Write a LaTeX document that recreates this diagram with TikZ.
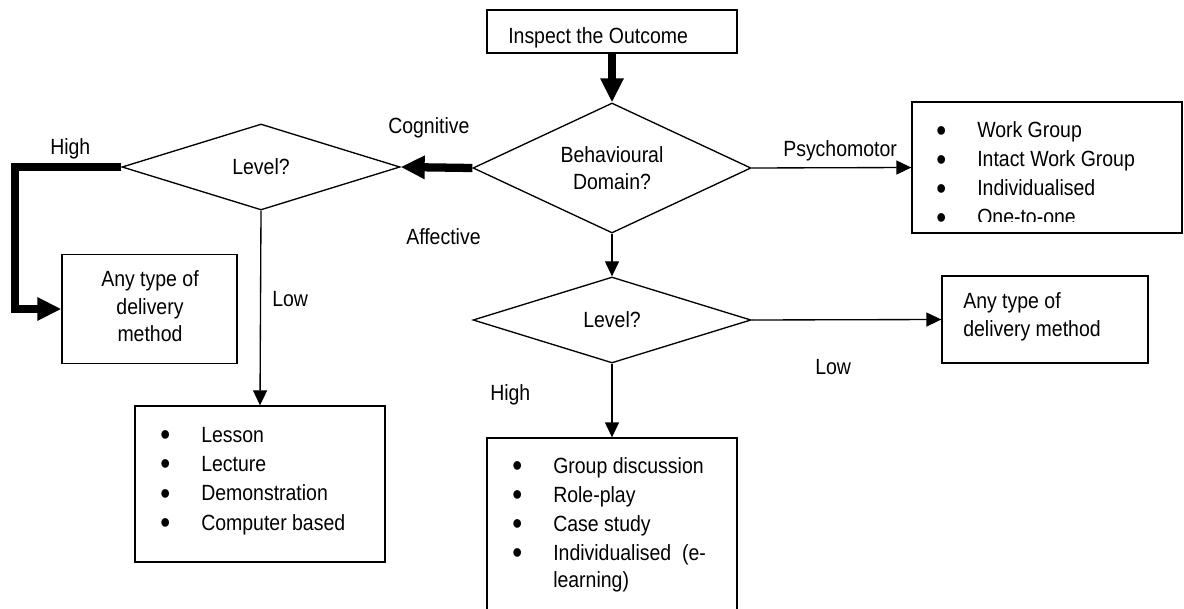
\documentclass[tikz,border=0pt]{standalone}
\usepackage{fontspec}
\setmainfont[FakeStretch=0.885]{Liberation Sans}
\usetikzlibrary{arrows.meta,shapes.geometric}

\newcommand{\itembullet}{\makebox[30.75pt][l]{\raisebox{-2.6pt}{\scalebox{1.45}{•}}}}

\tikzset{
  frame/.style={draw, line width=1pt, rectangle, inner sep=0pt},
  decide/.style={draw, line width=1pt, diamond, inner sep=0pt, align=center},
  lbl/.style={anchor=base west, inner sep=0pt},
  lst/.style={anchor=base west, inner sep=0pt},
  flow/.style={line width=1pt, -{Triangle[length=11.25pt,width=10.5pt]}},
  bold flow/.style={line width=6.2pt, line join=miter, -{Triangle[length=18pt,width=16.5pt]}},
}

\begin{document}
\begin{tikzpicture}[x=0.75pt, y=-0.75pt, font=\fontsize{16.5pt}{20.25pt}\selectfont]
\useasboundingbox (0,0) rectangle (1184,609);
\fill[white] (0,0) rectangle (1184,609);
\clip (0,0) rectangle (1184,609);

% boxes
\node[frame, minimum width=187.5pt, minimum height=32.25pt] (top) at (612,31.5) {};
\node[frame, minimum width=202.5pt, minimum height=98.25pt] (psych) at (1047,167.5) {};
\node[frame, minimum width=131.25pt, minimum height=81.75pt] (anyL) at (149.5,309) {};
\node[frame, minimum width=187.5pt, minimum height=117pt] (lesson) at (260,484) {};
\node[frame, minimum width=154.5pt, minimum height=65.25pt] (anyR) at (1045,319.5) {};
\node[frame, minimum width=187.5pt, minimum height=196.5pt] (group) at (612,569) {};

% decisions
\node[decide, aspect=2.2, minimum width=208.5pt, minimum height=97.5pt] (dom) at (612,168) {Behavioural\\Domain?};
\node[decide, aspect=3.2, minimum width=208.5pt, minimum height=64.5pt] (lvlC) at (261,167) {Level?};
\node[decide, aspect=3.2, minimum width=208.5pt, minimum height=64.5pt] (lvlA) at (612,320) {Level?};

% texts of the boxes
\node[lbl] (toptext) at (508,44) {Inspect the Outcome};

\begin{scope}
  \clip (912,102) rectangle (1182,222);
  \node[lst, font=\fontsize{16.5pt}{21.75pt}\selectfont] (psychlist) at (936,138) {\begin{tabular}[t]{@{}l@{}}
    \itembullet Work Group\\
    \itembullet Intact Work Group\\
    \itembullet Individualised\\
    \itembullet One-to-one
  \end{tabular}};
\end{scope}

\node[anchor=base, inner sep=0pt, font=\fontsize{16.5pt}{20.6pt}\selectfont] (anyLtext) at (150,287) {\begin{tabular}[t]{@{}c@{}}
  Any type of\\ delivery\\ method
\end{tabular}};

\node[lst, font=\fontsize{16.5pt}{21pt}\selectfont] (anyRtext) at (963,309) {\begin{tabular}[t]{@{}l@{}}
  Any type of\\ delivery method
\end{tabular}};

\node[lst, font=\fontsize{16.5pt}{22pt}\selectfont] (lessonlist) at (160,442) {\begin{tabular}[t]{@{}l@{}}
  \itembullet Lesson\\
  \itembullet Lecture\\
  \itembullet Demonstration\\
  \itembullet Computer based
\end{tabular}};

\node[lst] (grouplist) at (512,473) {\begin{tabular}[t]{@{}l@{}}
  \itembullet Group discussion\\[1.5pt]
  \itembullet Role-play\\[1.5pt]
  \itembullet Case study\\[1.5pt]
  \itembullet Individualised\ \ (e-\\
  \hspace*{30.75pt}learning)
\end{tabular}};

% branch labels
\node[lbl] (lcog) at (388,134) {Cognitive};
\node[lbl] (lhighC) at (50,155) {High};
\node[lbl] (lpsy) at (783,157) {Psychomotor};
\node[lbl] (laff) at (406,245) {Affective};
\node[lbl] (llowC) at (272,307) {Low};
\node[lbl] (llowA) at (815,374) {Low};
\node[lbl] (lhighA) at (490,400) {High};

% connectors
\coordinate (hcorner) at (15,309);
\draw[bold flow] (top.south) -- (dom.north);
\draw[bold flow] (dom.west) -- (lvlC.east);
\draw[bold flow] (lvlC.west) -| (hcorner) -- (anyL.west);
\draw[flow] (dom.east) -- (psych.west);
\draw[flow] (dom.south) -- (lvlA.north);
\draw[flow] (lvlC.south) -- (lesson.north);
\draw[flow] (lvlA.east) -- (anyR.west);
\draw[flow] (lvlA.south) -- (group.north);
\end{tikzpicture}
\end{document}
